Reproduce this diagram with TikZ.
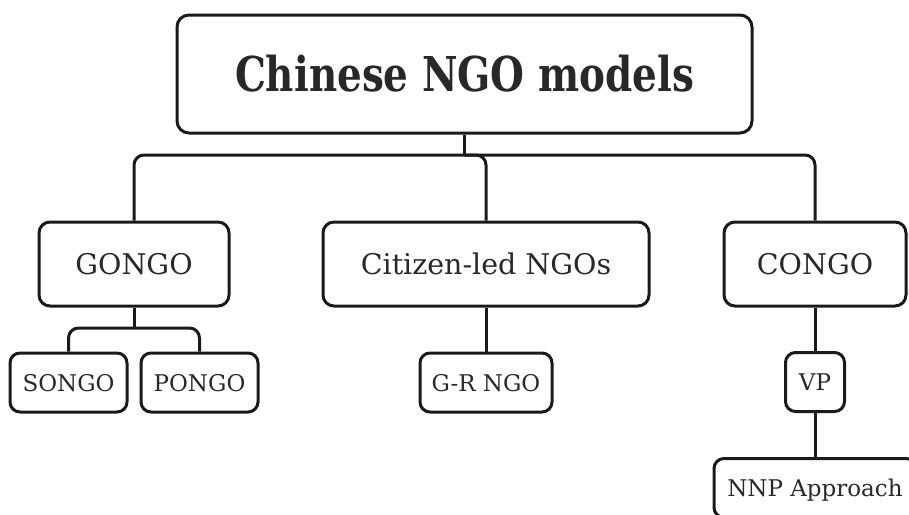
\documentclass[tikz,border=0pt]{standalone}
\usepackage{fontspec}
\setmainfont{DejaVu Serif}
\newfontfamily\titlefont[FakeStretch=0.81]{DejaVu Serif}
\usepackage{tikz}
\usetikzlibrary{positioning}
\definecolor{ink}{RGB}{26,26,26}
\definecolor{word}{RGB}{40,40,40}
\tikzset{
  root/.style={draw=ink, rounded corners=12pt, line width=3pt, text=word,
              font={\titlefont\bfseries\fontsize{48}{56}\selectfont},
              minimum width=575pt, minimum height=118pt, text height=35pt, text depth=0pt},
  box/.style={draw=ink, rounded corners=11pt, line width=3pt, text=word,
              font={\fontsize{28.5}{34}\selectfont},
              minimum height=84pt, text height=21pt, text depth=0pt},
  leaf/.style={draw=ink, rounded corners=10pt, line width=3pt, text=word,
              font={\fontsize{23}{28}\selectfont}, inner sep=0pt,
              minimum height=59pt, text height=17pt, text depth=0pt},
  link/.style={ink, line width=3pt, rounded corners=10pt},
}
\begin{document}
\begin{tikzpicture}[x=1pt,y=-1pt]
        \clip (0,0) rectangle (909,514);
        \node[root] (top) at (464.5,74) {Chinese NGO models};
        \node[box,minimum width=190pt] (gongo) at (134,264) {GONGO};
        \node[box,minimum width=326pt] (citizen) at (486,264) {Citizen-led NGOs};
        \node[box,minimum width=182pt] (congo) at (815,264) {CONGO};
        \node[leaf,minimum width=117pt] (songo) at (68.5,382.5) {SONGO};
        \node[leaf,minimum width=117pt] (pongo) at (199.5,382.5) {PONGO};
        \node[leaf,minimum width=132pt] (grngo) at (486,382.5) {G-R NGO};
        \node[leaf,minimum width=59pt] (vp) at (815,382) {VP};
        \node[leaf,minimum width=202pt] (nnp) at (815,488) {NNP Approach};
        \coordinate (bus) at (top.south |- 0,155);
        \coordinate (subbus) at (gongo.south |- 0,328);
        % first level
        \draw[link] (gongo.north) |- (bus) -| (congo.north);
        \draw[ink,line width=3pt] (top.south) -- (bus);
        \draw[link] (bus) -| (citizen.north);
        % second level
        \draw[link] (songo.north) |- (subbus) -| (pongo.north);
        \draw[ink,line width=3pt] (gongo.south) -- (subbus);
        \draw[link] (citizen.south) -- (grngo.north);
        \draw[link] (congo.south) -- (vp.north);
        \draw[link] (vp.south) -- (nnp.north);
      \end{tikzpicture}
\end{document}
